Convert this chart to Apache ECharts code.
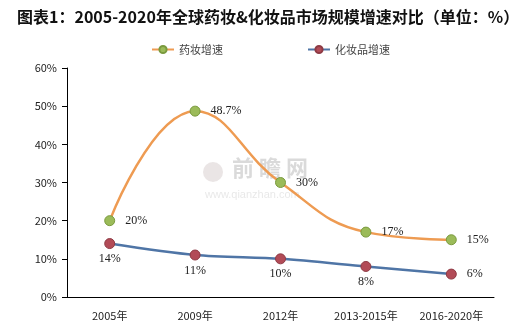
<!DOCTYPE html>
<html><head><meta charset="utf-8">
<script src="https://cdn.jsdelivr.net/npm/echarts@6/dist/echarts.min.js"></script>
<style>html,body{margin:0;padding:0;background:#fff}#c{width:530px;height:335px}</style>
</head><body><div id="c"></div>
<script>
const categories = ['2005年','2009年','2012年','2013-2015年','2016-2020年'];
const yaozhuang = [20, 48.7, 30, 17, 15];
const huazhuang = [14, 11, 10, 8, 6];
const yTicks = [0,10,20,30,40,50,60];

const chart = echarts.init(document.getElementById('c'));
const labelFont = {fontFamily:'"Liberation Serif","DejaVu Serif",serif', fontSize:12, color:'#222'};
chart.setOption({
  backgroundColor:'#fff',
  animation:false,
  title:{text:'图表1：2005-2020年全球药妆&化妆品市场规模增速对比（单位：%）', left:12, top:4,
    textStyle:{fontSize:16, fontWeight:'bold', color:'#111', fontFamily:'"Noto Sans CJK SC",sans-serif'}},
  legend:{top:39, left:146, itemGap:84, itemWidth:22, itemHeight:9,
    textStyle:{fontSize:11, color:'#444', fontFamily:'"Noto Sans CJK SC",sans-serif'},
    data:['药妆增速','化妆品增速']},
  graphic:[
    {type:'circle', shape:{cx:213, cy:172, r:10}, style:{fill:'rgba(170,150,150,0.25)'}},
    {type:'text', left:232, top:157, style:{text:'前 瞻 网', fill:'rgba(150,150,150,0.35)', font:'bold 22px "Noto Sans CJK SC"'}},
    {type:'text', left:205, top:189, style:{text:'www.qianzhan.com', fill:'rgba(150,150,150,0.22)', font:'11px sans-serif'}}],
  grid:{left:67, right:36, top:68, bottom:38},
  xAxis:{type:'category', data:categories, boundaryGap:true,
    axisLine:{lineStyle:{color:'#000', width:1}},
    axisTick:{inside:true, length:4, lineStyle:{color:'#000'}},
    axisLabel:{color:'#222', fontSize:11, margin:13, fontFamily:'"Noto Sans CJK SC",sans-serif'}},
  yAxis:{type:'value', min:0, max:60, interval:10,
    axisLine:{show:true, lineStyle:{color:'#000'}},
    axisTick:{show:true, length:5, lineStyle:{color:'#000'}},
    splitLine:{show:false},
    axisLabel:{formatter: v => yTicks.includes(v) ? v + '%' : '', color:'#222', fontSize:11, margin:10, fontFamily:'"Noto Sans CJK SC",sans-serif'}},
  series:[
    {name:'药妆增速', type:'line', data:yaozhuang, smooth:0.45, symbol:'circle', symbolSize:10,
      lineStyle:{color:'#EE9B52', width:2.5},
      itemStyle:{color:'#9BBB59', borderColor:'#7A9A3E', borderWidth:1},
      label:{show:true, position:'right', distance:10, formatter: p => p.value + '%', ...labelFont}},
    {name:'化妆品增速', type:'line', smooth:0.3, symbol:'circle', symbolSize:10,
      data:huazhuang.map((v,i)=> i===4 ? {value:v, label:{position:'right', distance:10}} : v),
      lineStyle:{color:'#4F75A6', width:2.5},
      itemStyle:{color:'#B24B57', borderColor:'#8E3A44', borderWidth:1},
      label:{show:true, position:'bottom', distance:4, formatter: p => p.value + '%', ...labelFont}}
  ]
});
</script></body></html>
